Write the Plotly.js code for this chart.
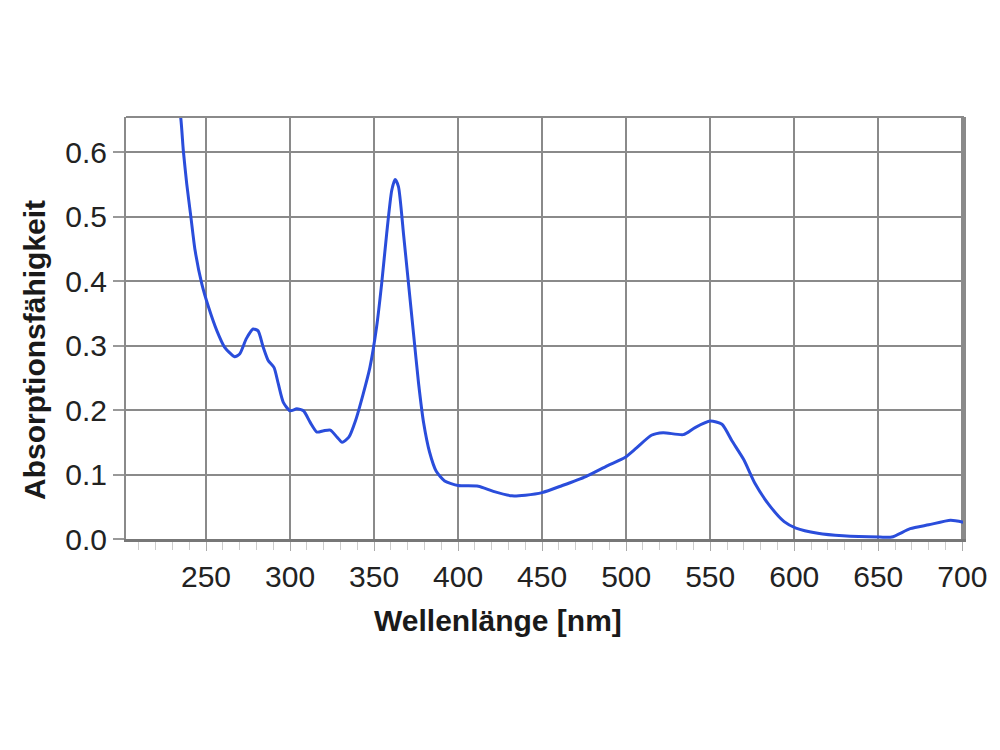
<!DOCTYPE html>
<html>
<head>
<meta charset="utf-8">
<script src="https://cdn.plot.ly/plotly-3.0.1.min.js"></script>
<style>html,body{margin:0;padding:0;background:#fff;}#chart{width:1000px;height:750px;}</style>
</head>
<body>
<div id="chart"></div>
<script>
// Wellenlänge [nm]
const wavelength = [232, 235, 236.5, 238.5, 241, 243.5, 247.5, 251.5, 256.5, 261, 267, 270, 274, 278, 281, 284, 287, 290.5, 293, 296, 300, 304, 308, 312, 316, 320, 324, 328, 331, 335, 339, 343.5, 347.5, 351.5, 354.5, 357.5, 360.5, 362.5, 364.5, 367.5, 370.5, 373.5, 376.5, 379.5, 383, 387, 392, 400, 412, 421, 432, 440, 450, 462, 476, 489, 499, 506, 515, 522, 534, 541, 550, 557, 563, 570, 576.5, 585, 594, 601, 614, 629, 651, 658, 669, 680, 693, 700.5];
// Absorptionsfähigkeit
const absorbance = [0.70, 0.653, 0.603, 0.552, 0.500, 0.448, 0.396, 0.360, 0.323, 0.298, 0.283, 0.287, 0.311, 0.326, 0.323, 0.298, 0.277, 0.266, 0.241, 0.212, 0.199, 0.202, 0.199, 0.181, 0.166, 0.168, 0.169, 0.158, 0.150, 0.158, 0.184, 0.225, 0.266, 0.329, 0.396, 0.474, 0.541, 0.558, 0.547, 0.474, 0.396, 0.318, 0.241, 0.180, 0.135, 0.105, 0.090, 0.083, 0.082, 0.074, 0.067, 0.068, 0.072, 0.083, 0.097, 0.114, 0.126, 0.141, 0.161, 0.165, 0.162, 0.173, 0.183, 0.178, 0.152, 0.123, 0.087, 0.053, 0.027, 0.017, 0.009, 0.005, 0.003, 0.003, 0.016, 0.022, 0.029, 0.026];
const yTicks = [0, 0.1, 0.2, 0.3, 0.4, 0.5, 0.6];
const xTicks = [250, 300, 350, 400, 450, 500, 550, 600, 650, 700];
const xTitle = 'Wellenlänge [nm]';
const yTitle = 'Absorptionsfähigkeit';

const trace = {
  x: wavelength, y: absorbance, type: 'scatter', mode: 'lines',
  line: {color: '#2a4ddb', width: 3, shape: 'spline', smoothing: 0.6},
  hoverinfo: 'x+y'
};

const tickFont = {family: 'Liberation Sans, Arial, sans-serif', size: 30, color: '#222'};
const titleFont = {family: 'Liberation Sans, Arial, sans-serif', size: 30, color: '#1a1a1a', weight: 700};

const layout = {
  width: 1000, height: 750,
  paper_bgcolor: '#fff', plot_bgcolor: '#fff',
  margin: {l: 126, r: 36, t: 117, b: 211},
  showlegend: false,
  xaxis: {
    range: [202.4, 701], tickvals: xTicks, ticktext: xTicks.map(String),
    showgrid: true, gridcolor: '#8a8a8a', gridwidth: 2,
    showline: true, linecolor: '#777', linewidth: 3, mirror: false,
    ticks: 'outside', ticklen: 9, tickcolor: '#aaa', tickwidth: 1,
    minor: {dtick: 10, tick0: 200, ticks: 'outside', ticklen: 8, tickcolor: '#ccc', tickwidth: 1, showgrid: false},
    tickfont: tickFont, zeroline: false
  },
  yaxis: {
    range: [0, 0.655], tickvals: yTicks, ticktext: yTicks.map(v => v.toFixed(1)),
    showgrid: true, gridcolor: '#8a8a8a', gridwidth: 2,
    showline: true, linecolor: '#8a8a8a', linewidth: 2, mirror: true,
    ticks: 'outside', ticklen: 11, tickcolor: '#999', tickwidth: 2,
    tickfont: tickFont, zeroline: false
  },
  shapes: [
    {type: 'line', xref: 'paper', yref: 'paper', x0: 0, x1: 1, y0: 1, y1: 1, line: {color: '#8a8a8a', width: 2}},
    {type: 'line', xref: 'paper', yref: 'paper', x0: 1, x1: 1, y0: 0, y1: 1, line: {color: '#8a8a8a', width: 2}}
  ],
  annotations: [
    {text: xTitle, xref: 'paper', yref: 'paper', x: 0.444, y: -0.194, xanchor: 'center', yanchor: 'middle', showarrow: false, font: titleFont},
    {text: yTitle, xref: 'paper', yref: 'paper', x: -0.1086, y: 0.448, xanchor: 'center', yanchor: 'middle', textangle: -90, showarrow: false, font: titleFont}
  ]
};

Plotly.newPlot('chart', [trace], layout, {displayModeBar: false, staticPlot: true});
</script>
</body>
</html>
